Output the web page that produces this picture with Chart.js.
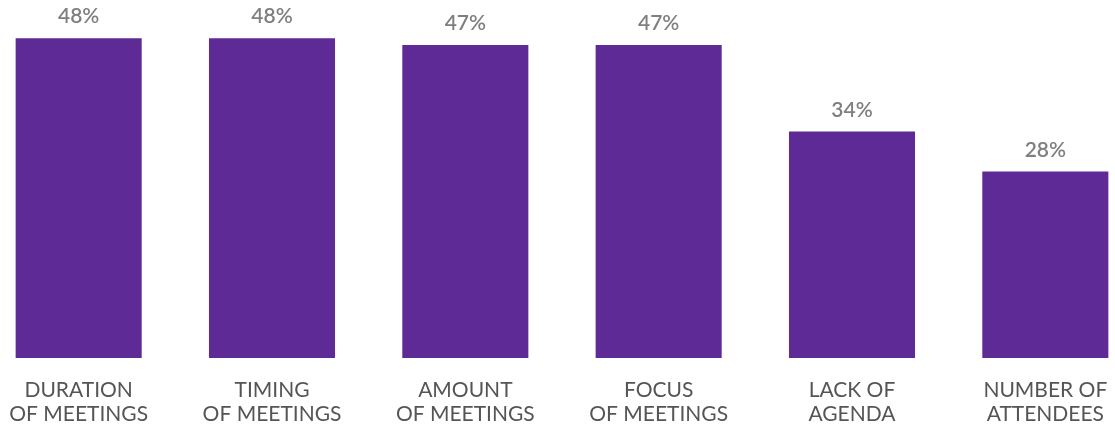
<!DOCTYPE html>
<html>
<head>
<meta charset="utf-8">
<script src="https://cdn.jsdelivr.net/npm/chart.js@4"></script>
<style>
    html, body { margin: 0; padding: 0; background: #fff; overflow: hidden; }
    .wrap { position: absolute; left: -18px; top: 0; width: 1160px; height: 424px; }
</style>
</head>
<body>
<div class="wrap"><canvas id="meetingChart"></canvas></div>
<script>
const categories = [
    ['DURATION', 'OF MEETINGS'],
    ['TIMING', 'OF MEETINGS'],
    ['AMOUNT', 'OF MEETINGS'],
    ['FOCUS', 'OF MEETINGS'],
    ['LACK OF', 'AGENDA'],
    ['NUMBER OF', 'ATTENDEES']
];
const percents = [48, 48, 47, 47, 34, 28];

// percentage text above each bar
const valueLabels = {
    id: 'valueLabels',
    afterDatasetsDraw(chart) {
        const ctx = chart.ctx;
        const meta = chart.getDatasetMeta(0);
        ctx.save();
        ctx.font = '600 21px Lato, "Noto Sans", sans-serif';
        ctx.fillStyle = '#7f7f7f';
        ctx.textAlign = 'center';
        ctx.textBaseline = 'alphabetic';
        meta.data.forEach((bar, i) => {
            ctx.fillText(percents[i] + '%', bar.x, bar.y - 15);
        });
        ctx.restore();
    }
};

const ctx = document.getElementById('meetingChart').getContext('2d');
new Chart(ctx, {
    type: 'bar',
    data: {
        labels: categories,
        datasets: [{
            data: percents,
            backgroundColor: '#5e2b96',
            barPercentage: 0.652,
            categoryPercentage: 1
        }]
    },
    options: {
        responsive: true,
        maintainAspectRatio: false,
        animation: false,
        layout: { padding: { top: 25, left: 0, right: 0, bottom: 0 } },
        plugins: { legend: { display: false }, tooltip: { enabled: false } },
        scales: {
            x: {
                grid: { display: false },
                border: { display: false },
                ticks: {
                    color: '#555555',
                    font: { family: 'Lato, "Noto Sans", sans-serif', size: 21, weight: 400, lineHeight: 1.15 },
                    padding: 12,
                    maxRotation: 0,
                    autoSkip: false
                },
                afterFit(scale) { scale.height = 66; }
            },
            y: {
                display: false,
                min: 0,
                max: 50
            }
        }
    },
    plugins: [valueLabels]
});
</script>
</body>
</html>
